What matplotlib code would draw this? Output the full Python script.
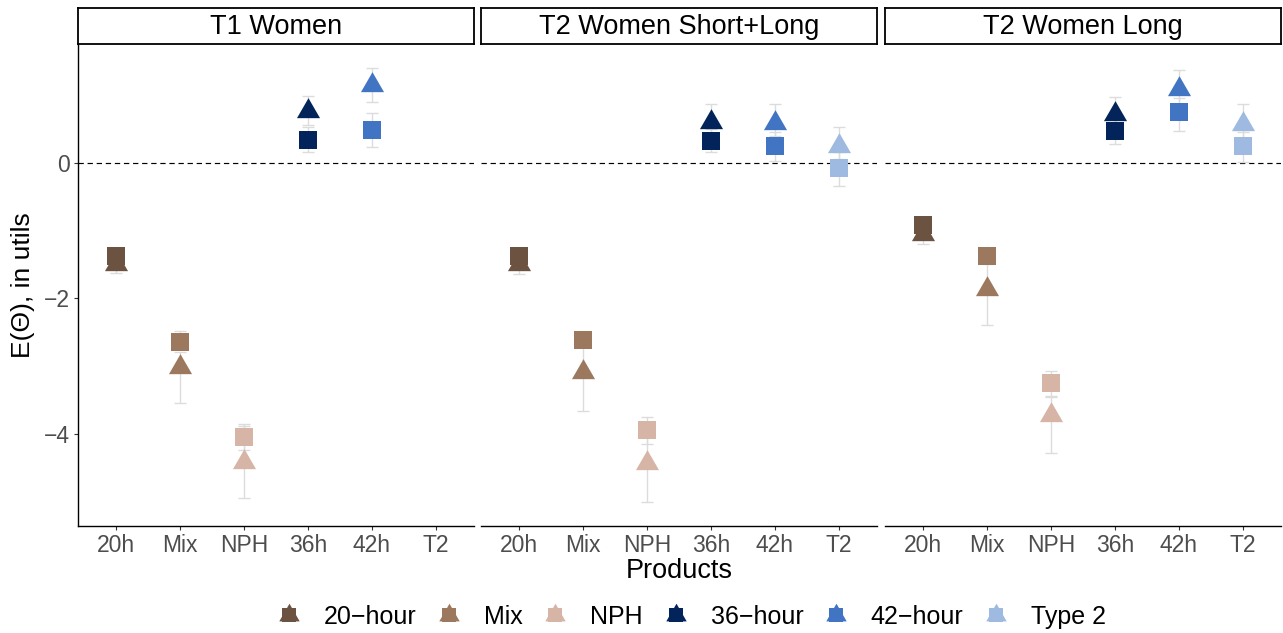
import numpy as np
import matplotlib
matplotlib.use("Agg")
import matplotlib.pyplot as plt
from matplotlib.path import Path
from matplotlib.lines import Line2D

plt.rcParams['font.family'] = ['Liberation Sans', 'DejaVu Sans']

# data
panels = ['T1 Women', 'T2 Women Short+Long', 'T2 Women Long']
products = ['20h', 'Mix', 'NPH', '36h', '42h', 'T2']
legend_names = ['20\u2212hour', 'Mix', 'NPH', '36\u2212hour', '42\u2212hour', 'Type 2']
colors = ['#6C5241', '#9C785F', '#D6B5A7', '#02245A', '#4274C4', '#9FBAE1']

# squares (first estimate) per panel, None = no point
sq_mean = [[-1.37, -2.64, -4.04, 0.34, 0.48, None],
           [-1.37, -2.61, -3.95, 0.32, 0.25, -0.08],
           [-0.92, -1.38, -3.25, 0.46, 0.75, 0.25]]
sq_lo = [[-1.45, -2.75, -4.24, 0.16, 0.23, None],
         [-1.45, -2.72, -4.15, 0.16, 0.02, -0.34],
         [-1.00, -1.48, -3.44, 0.27, 0.46, 0.01]]
sq_hi = [[-1.30, -2.48, -3.88, 0.52, 0.73, None],
         [-1.30, -2.50, -3.75, 0.50, 0.45, 0.15],
         [-0.85, -1.28, -3.07, 0.65, 0.95, 0.45]]

# triangles (second estimate)
tr_mean = [[-1.49, -3.01, -4.42, 0.76, 1.14, None],
           [-1.50, -3.09, -4.43, 0.60, 0.58, 0.25],
           [-1.05, -1.86, -3.73, 0.72, 1.08, 0.57]]
tr_lo = [[-1.63, -3.55, -4.95, 0.55, 0.89, None],
         [-1.65, -3.66, -5.00, 0.40, 0.40, 0.05],
         [-1.20, -2.40, -4.28, 0.50, 0.85, 0.35]]
tr_hi = [[-1.35, -2.80, -3.85, 0.99, 1.40, None],
         [-1.35, -2.55, -4.00, 0.86, 0.87, 0.53],
         [-0.92, -1.50, -3.45, 0.97, 1.37, 0.87]]

# R style filled triangle (pch 17), centred on its centroid
tri = Path([(0, 1.5551), (-1.3468, -0.7776), (1.3468, -0.7776), (0, 1.5551)],
           [Path.MOVETO, Path.LINETO, Path.LINETO, Path.CLOSEPOLY])

W, H = 1283, 633
fig = plt.figure(figsize=(W / 100, H / 100), dpi=100)

lefts = [78, 481, 885]
pw = 396
top, bottom = 44, 526
strip_top = 8
ebcol = '#DCDCDC'
x = np.arange(len(products))

for k, name in enumerate(panels):
    ax = fig.add_axes([lefts[k] / W, 1 - bottom / H, pw / W, (bottom - top) / H])
    ax.axhline(0, color='black', lw=0.85, dashes=(4.5, 3.2), zorder=1)
    for i in range(len(products)):
        if sq_mean[k][i] is None:
            continue
        m = sq_mean[k][i]
        ax.errorbar(x[i], m, yerr=[[m - sq_lo[k][i]], [sq_hi[k][i] - m]],
                    fmt='none', ecolor=ebcol, elinewidth=1.0, capsize=4.6, capthick=1.0, zorder=2)
        m = tr_mean[k][i]
        ax.errorbar(x[i], m, yerr=[[m - tr_lo[k][i]], [tr_hi[k][i] - m]],
                    fmt='none', ecolor=ebcol, elinewidth=1.0, capsize=4.6, capthick=1.0, zorder=2)
    for i in range(len(products)):
        if tr_mean[k][i] is None:
            continue
        ax.plot(x[i], tr_mean[k][i], marker=tri, ms=19.2, color=colors[i], mew=0, ls='none', zorder=3)
    for i in range(len(products)):
        if sq_mean[k][i] is None:
            continue
        ax.plot(x[i], sq_mean[k][i], marker='s', ms=13, color=colors[i], mew=0, ls='none', zorder=4)

    ax.set_xlim(-0.6, len(products) - 0.4)
    ax.set_ylim(-5.36, 1.75)
    ax.set_xticks(x)
    ax.set_xticklabels(products, fontsize=16.5, color='#4D4D4D')
    ax.tick_params(axis='x', length=3, width=0.8, color='#333333', pad=2.5)
    for s in ['top', 'right']:
        ax.spines[s].set_visible(False)
    ax.spines['bottom'].set_linewidth(1.0)
    if k == 0:
        ax.set_yticks([0, -2, -4])
        ax.tick_params(axis='y', length=3, width=0.8, color='#333333', labelsize=16.5,
                       labelcolor='#4D4D4D', pad=2.5)
        ax.spines['left'].set_linewidth(1.0)
        ax.set_ylabel('E(\u0398), in utils', fontsize=19, labelpad=7)
    else:
        ax.set_yticks([])
        ax.spines['left'].set_visible(False)
    if k == 1:
        ax.set_xlabel('Products', fontsize=19.5, labelpad=1)

    sax = fig.add_axes([lefts[k] / W, 1 - top / H, pw / W, (top - strip_top) / H])
    sax.set_xticks([])
    sax.set_yticks([])
    for s in sax.spines.values():
        s.set_linewidth(1.3)
    sax.text(0.5, 0.47, name, ha='center', va='center', fontsize=19.5, transform=sax.transAxes)

handles = []
for c in colors:
    h1 = Line2D([], [], marker=tri, ms=17, color=c, mew=0, ls='none')
    h2 = Line2D([], [], marker='s', ms=10, color=c, mew=0, ls='none')
    handles.append((h1, h2))
fig.legend(handles, legend_names, loc='center', bbox_to_anchor=(690 / W, 1 - 617 / H),
           ncol=6, frameon=False, fontsize=18, handlelength=1.2, handletextpad=0.8,
           columnspacing=0.7)

fig.savefig('out.png', dpi=100)
